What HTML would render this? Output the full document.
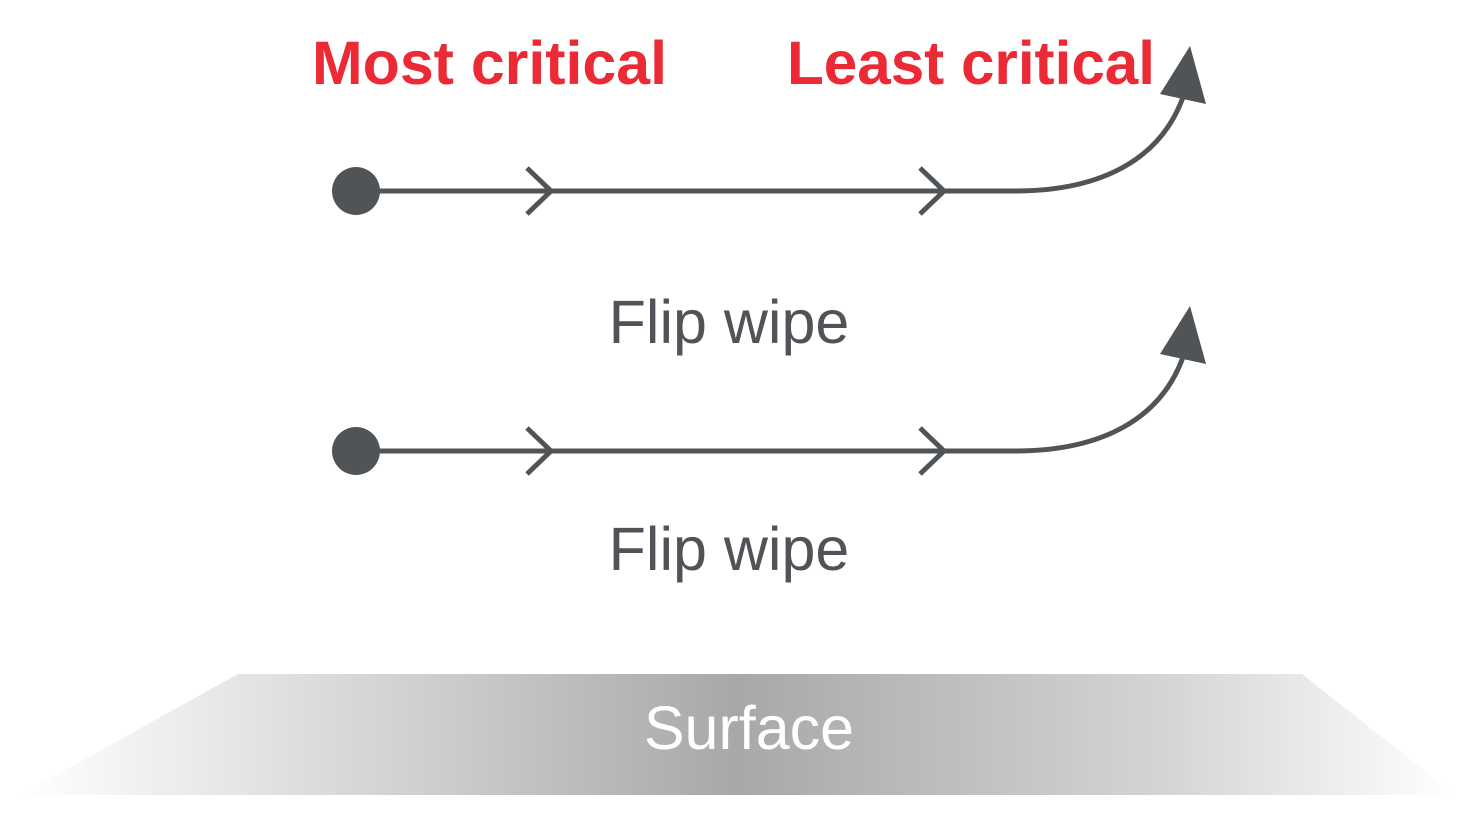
<!DOCTYPE html>
<html><head><meta charset="utf-8"><style>
html,body{margin:0;padding:0;background:#fff;}
svg{display:block;}
</style></head><body>
<svg width="1479" height="815" viewBox="0 0 1479 815" xmlns="http://www.w3.org/2000/svg">
<defs>
<linearGradient id="g" x1="0" y1="0" x2="1" y2="0">
<stop offset="0" stop-color="#ffffff"/>
<stop offset="0.2" stop-color="#dcdddf"/>
<stop offset="0.5" stop-color="#a7a8aa"/>
<stop offset="0.8" stop-color="#d4d5d7"/>
<stop offset="1" stop-color="#ffffff"/>
</linearGradient>
</defs>
<text x="312" y="84" font-family="Liberation Sans, sans-serif" font-weight="bold" font-size="61" fill="#ec2a35" textLength="355" lengthAdjust="spacingAndGlyphs">Most critical</text>
<text x="787" y="84" font-family="Liberation Sans, sans-serif" font-weight="bold" font-size="61" fill="#ec2a35" textLength="368" lengthAdjust="spacingAndGlyphs">Least critical</text>

<g stroke="#515457" stroke-width="5" fill="none">
<path d="M356 191 H1015 C1100 191 1165 160 1186 88"/>
<path d="M527 168 L551 191 L527 214"/>
<path d="M920 168 L944 191 L920 214"/>
<path d="M356 451 H1015 C1100 451 1165 420 1186 348"/>
<path d="M527 428 L551 451 L527 474"/>
<path d="M920 428 L944 451 L920 474"/>
</g>
<g fill="#515457">
<circle cx="356" cy="191" r="24"/>
<circle cx="356" cy="451" r="24"/>
<polygon points="1190,46 1160,94 1206,104"/>
<polygon points="1190,306 1160,354 1206,364"/>
</g>

<text x="729" y="343" text-anchor="middle" font-family="Liberation Sans, sans-serif" font-size="61" fill="#505357">Flip wipe</text>
<text x="729" y="570" text-anchor="middle" font-family="Liberation Sans, sans-serif" font-size="61" fill="#505357">Flip wipe</text>

<polygon points="238,674 1302,674 1455,795 20,795" fill="url(#g)"/>
<text x="749" y="749" text-anchor="middle" font-family="Liberation Sans, sans-serif" font-size="61" fill="#ffffff">Surface</text>
</svg>
</body></html>
